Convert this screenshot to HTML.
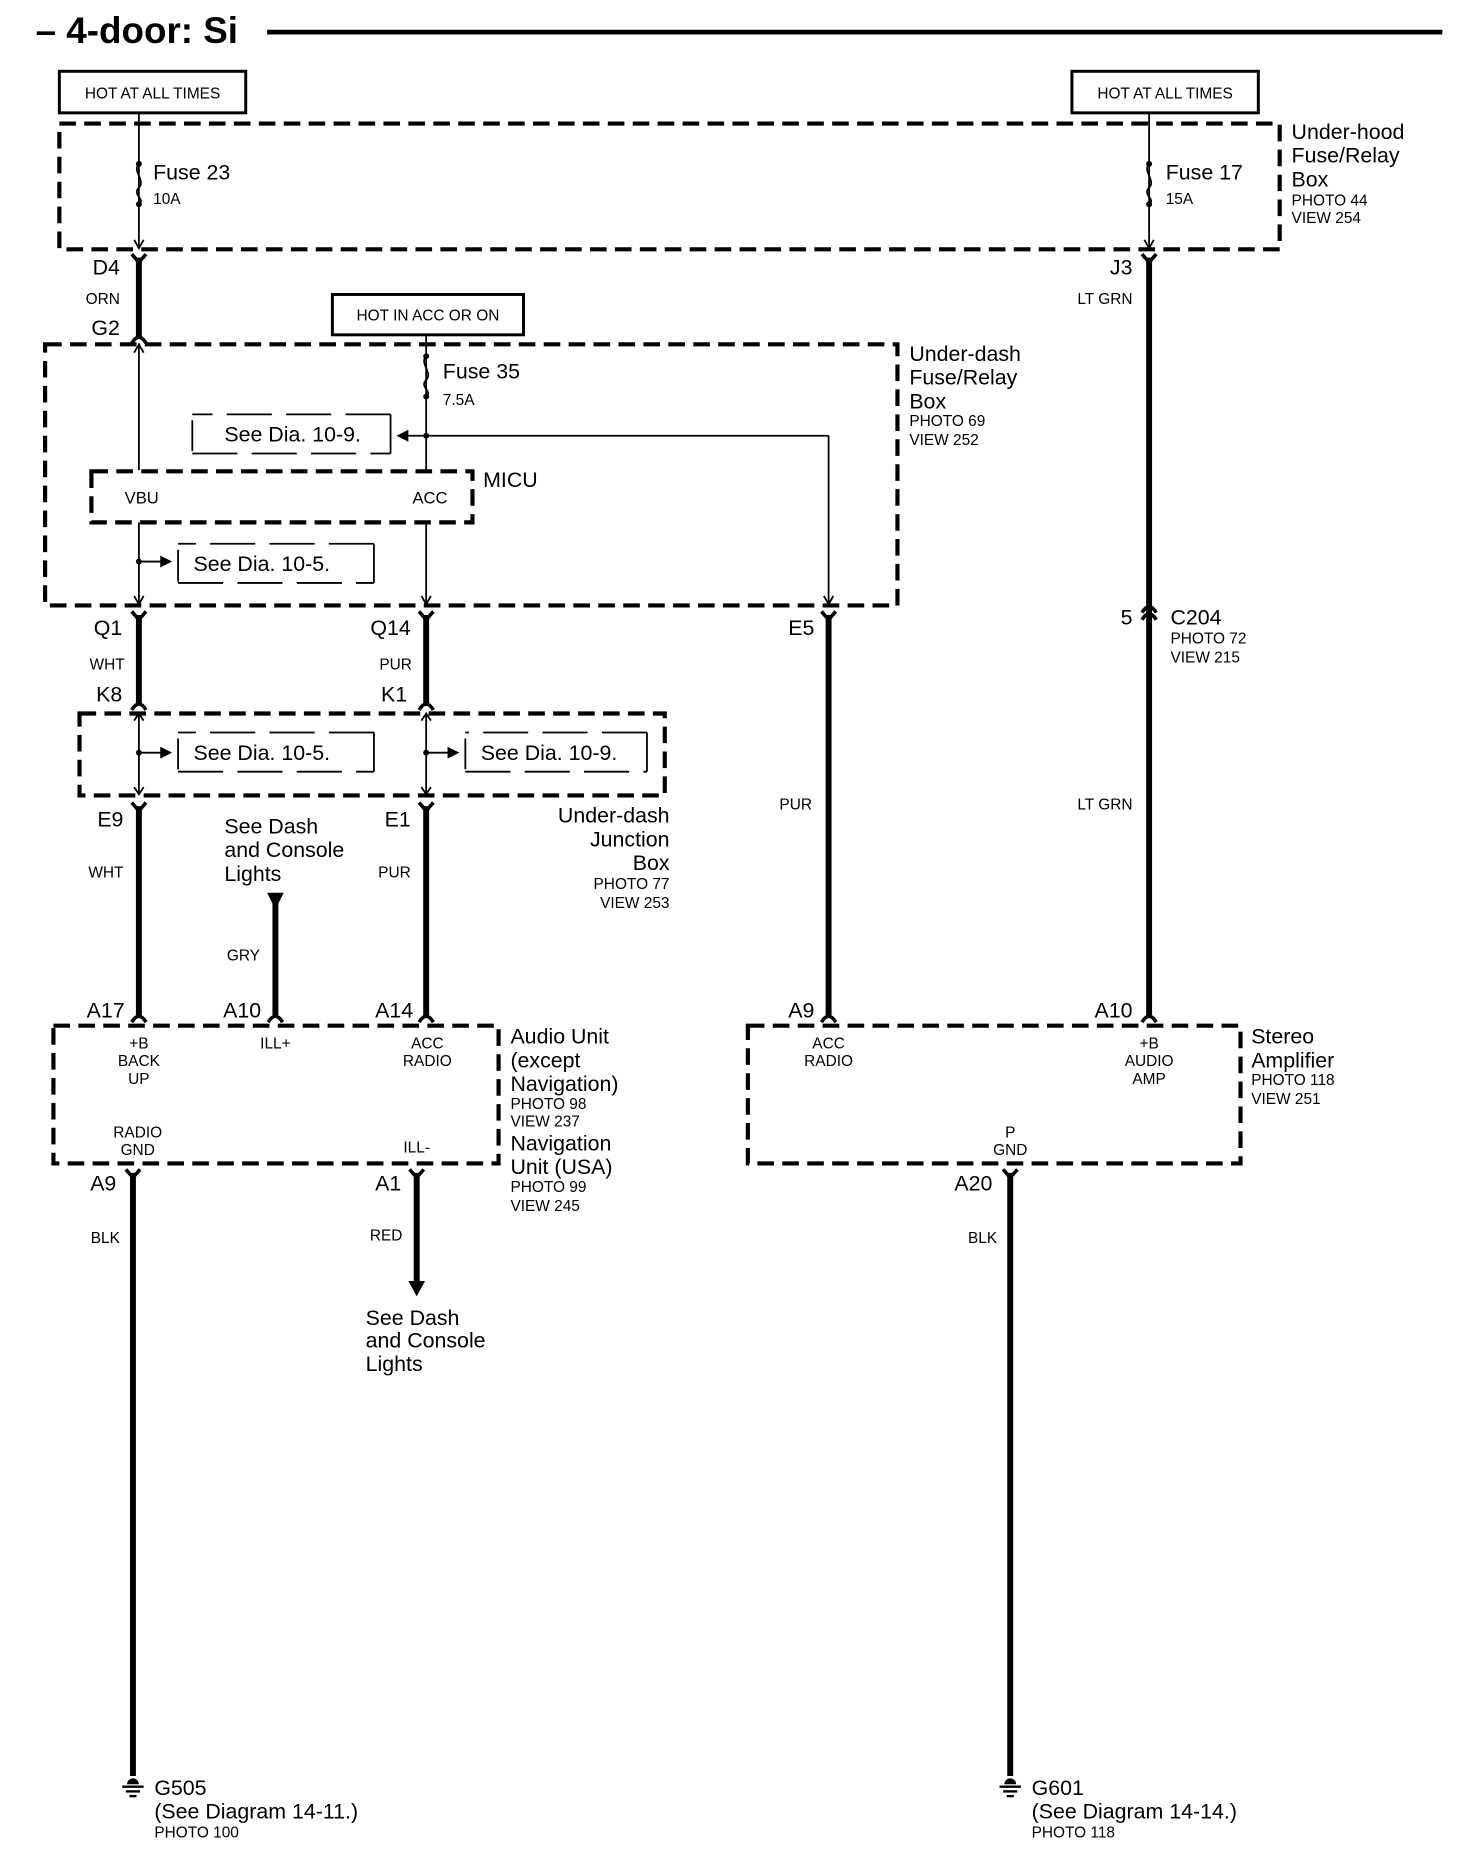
<!DOCTYPE html>
<html><head><meta charset="utf-8"><style>
html,body{margin:0;padding:0;background:#fff}
svg{display:block}
text{font-family:"Liberation Sans",Arial,sans-serif;fill:#000}
.b{font-size:18px}.s{font-size:13px}.m{font-size:14px}
.thin{stroke:#000;stroke-width:1.5;fill:none}
.thick{stroke:#000;stroke-width:5;fill:none}
.dash{stroke:#000;stroke-width:3.5;fill:none;stroke-dasharray:14 7}
.dash2{stroke:#000;stroke-width:1.5;fill:none;stroke-dasharray:38 12}
.con{stroke:#000;stroke-width:3;fill:none}
</style></head><body>
<svg width="1472" height="1852" viewBox="0 0 1240 1560" xmlns="http://www.w3.org/2000/svg">
<defs>
<g id="ytop"><path d="M-6,-7 L0,0 L6,-7" class="con"/></g>
<g id="ybot"><path d="M-6,6 Q0,-4 6,6" class="con"/></g>
<g id="fuse"><path d="M0,0 c-6,6 6,14 0,20 c-6,6 6,10 0,14" class="thin"/><circle cx="0" cy="0" r="2.5"/><circle cx="0" cy="34" r="2.5"/></g>
<g id="gnd"><circle cx="0" cy="0" r="5"/><rect x="-8" y="0" width="16" height="5" fill="#fff"/><line x1="-9" y1="2" x2="9" y2="2" stroke="#000" stroke-width="2"/><line x1="-6" y1="6" x2="6" y2="6" stroke="#000" stroke-width="2"/><line x1="-3" y1="10" x2="3" y2="10" stroke="#000" stroke-width="2"/></g>
</defs>

<!-- title -->
<text x="30" y="36" style="font-size:31px;font-weight:bold">– 4-door: Si</text>
<line x1="225" y1="27" x2="1215" y2="27" stroke="#000" stroke-width="4"/>

<!-- top hot boxes -->
<rect x="50" y="60" width="157" height="35" fill="none" stroke="#000" stroke-width="2.5"/>
<text x="128.5" y="83" class="s" text-anchor="middle">HOT AT ALL TIMES</text>
<rect x="903" y="60" width="157" height="35" fill="none" stroke="#000" stroke-width="2.5"/>
<text x="981.5" y="83" class="s" text-anchor="middle">HOT AT ALL TIMES</text>

<!-- under-hood box -->
<rect x="50" y="104" width="1028" height="106" class="dash"/>
<text x="1088" y="117" class="b">Under-hood</text>
<text x="1088" y="137" class="b">Fuse/Relay</text>
<text x="1088" y="157" class="b">Box</text>
<text x="1088" y="173" class="s">PHOTO 44</text>
<text x="1088" y="188" class="s">VIEW 254</text>

<line x1="117" y1="95" x2="117" y2="208" class="thin"/>
<use href="#fuse" x="117" y="138"/>
<path d="M113,202 L117,209 L121,202" class="thin"/>
<text x="129" y="151" class="b">Fuse 23</text><text x="129" y="172" class="s">10A</text>
<line x1="968" y1="95" x2="968" y2="208" class="thin"/>
<use href="#fuse" x="968" y="138"/>
<path d="M964,202 L968,209 L972,202" class="thin"/>
<text x="982" y="151" class="b">Fuse 17</text><text x="982" y="172" class="s">15A</text>

<!-- D4 - G2 -->
<line x1="117" y1="217" x2="117" y2="284" class="thick"/>
<use href="#ytop" x="117" y="221"/><use href="#ybot" x="117" y="283"/>
<text x="101" y="231" class="b" text-anchor="end">D4</text>
<text x="101" y="256" class="s" text-anchor="end">ORN</text>
<text x="101" y="282" class="b" text-anchor="end">G2</text>

<!-- J3 right wire -->
<line x1="968" y1="217" x2="968" y2="855" class="thick"/>
<use href="#ytop" x="968" y="221"/>
<text x="954" y="231" class="b" text-anchor="end">J3</text>
<text x="954" y="256" class="s" text-anchor="end">LT GRN</text>
<path d="M962,522 Q968,512 974,522" class="con"/><path d="M962,516 Q968,506 974,516" class="con"/>
<text x="954" y="526" class="b" text-anchor="end">5</text>
<text x="986" y="526" class="b">C204</text>
<text x="986" y="542" class="s">PHOTO 72</text>
<text x="986" y="558" class="s">VIEW 215</text>
<text x="954" y="682" class="s" text-anchor="end">LT GRN</text>
<use href="#ybot" x="968" y="855"/>
<text x="954" y="857" class="b" text-anchor="end">A10</text>

<!-- hot in acc -->
<rect x="280" y="248" width="161" height="34" fill="none" stroke="#000" stroke-width="2.5"/>
<text x="360.5" y="270" class="s" text-anchor="middle">HOT IN ACC OR ON</text>

<!-- under-dash fuse box -->
<rect x="38" y="290" width="718" height="220" class="dash"/>
<text x="766" y="304" class="b">Under-dash</text>
<text x="766" y="324" class="b">Fuse/Relay</text>
<text x="766" y="344" class="b">Box</text>
<text x="766" y="359" class="s">PHOTO 69</text>
<text x="766" y="375" class="s">VIEW 252</text>

<line x1="117" y1="290" x2="117" y2="396" class="thin"/>
<path d="M113,297 L117,290 L121,297" class="thin"/>
<line x1="117" y1="440" x2="117" y2="508" class="thin"/>
<path d="M113,502 L117,509 L121,502" class="thin"/>
<circle cx="117" cy="473" r="2.5"/><line x1="117" y1="473" x2="136" y2="473" class="thin"/><path d="M135,468 L145,473 L135,478Z"/>
<path d="M150,463 V490 M150,491 H315 M315,491 V458 M315,458 H150" class="dash2"/>
<text x="163" y="481" class="b">See Dia. 10-5.</text>

<line x1="359" y1="282" x2="359" y2="396" class="thin"/>
<use href="#fuse" x="359" y="300"/>
<text x="373" y="319" class="b">Fuse 35</text><text x="373" y="341" class="s">7.5A</text>
<circle cx="359" cy="367" r="2.5"/>
<line x1="342" y1="367" x2="698" y2="367" class="thin"/><path d="M344,362 L334,367 L344,372Z"/>
<line x1="698" y1="367" x2="698" y2="508" class="thin"/><path d="M694,502 L698,509 L702,502" class="thin"/>
<path d="M162,354 V380 M162,382 H329 M329,382 V349 M329,349 H162" class="dash2"/>
<text x="189" y="372" class="b">See Dia. 10-9.</text>
<line x1="359" y1="440" x2="359" y2="508" class="thin"/>
<path d="M355,502 L359,509 L363,502" class="thin"/>

<rect x="77" y="397" width="321" height="43" class="dash"/>
<text x="105" y="424" class="m">VBU</text>
<text x="377" y="424" class="m" text-anchor="end">ACC</text>
<text x="407" y="410" class="b">MICU</text>

<!-- Q1/Q14 -->
<line x1="117" y1="518" x2="117" y2="593" class="thick"/>
<use href="#ytop" x="117" y="522"/><use href="#ybot" x="117" y="592"/>
<text x="103" y="535" class="b" text-anchor="end">Q1</text>
<text x="105" y="564" class="s" text-anchor="end">WHT</text>
<text x="103" y="591" class="b" text-anchor="end">K8</text>
<line x1="359" y1="518" x2="359" y2="593" class="thick"/>
<use href="#ytop" x="359" y="522"/><use href="#ybot" x="359" y="592"/>
<text x="346" y="535" class="b" text-anchor="end">Q14</text>
<text x="347" y="564" class="s" text-anchor="end">PUR</text>
<text x="343" y="591" class="b" text-anchor="end">K1</text>

<!-- E5 -->
<line x1="698" y1="518" x2="698" y2="855" class="thick"/>
<use href="#ytop" x="698" y="522"/><use href="#ybot" x="698" y="855"/>
<text x="686" y="535" class="b" text-anchor="end">E5</text>
<text x="684" y="682" class="s" text-anchor="end">PUR</text>
<text x="686" y="857" class="b" text-anchor="end">A9</text>

<!-- junction box -->
<rect x="67" y="601" width="493" height="69" class="dash"/>
<line x1="117" y1="601" x2="117" y2="669" class="thin"/>
<path d="M113,607 L117,601 L121,607 M113,663 L117,669 L121,663" class="thin"/>
<circle cx="117" cy="634" r="2.5"/><line x1="117" y1="634" x2="136" y2="634" class="thin"/><path d="M135,629 L145,634 L135,639Z"/>
<path d="M150,622 V648 M150,650 H315 M315,650 V617 M315,617 H150" class="dash2"/>
<text x="163" y="640" class="b">See Dia. 10-5.</text>
<line x1="359" y1="601" x2="359" y2="669" class="thin"/>
<path d="M355,607 L359,601 L363,607 M355,663 L359,669 L363,663" class="thin"/>
<circle cx="359" cy="634" r="2.5"/><line x1="359" y1="634" x2="378" y2="634" class="thin"/><path d="M377,629 L387,634 L377,639Z"/>
<path d="M392,622 V648 M392,650 H545 M545,650 V617 M545,617 H392" class="dash2"/>
<text x="405" y="640" class="b">See Dia. 10-9.</text>
<text x="564" y="693" class="b" text-anchor="end">Under-dash</text>
<text x="564" y="713" class="b" text-anchor="end">Junction</text>
<text x="564" y="733" class="b" text-anchor="end">Box</text>
<text x="564" y="749" class="s" text-anchor="end">PHOTO 77</text>
<text x="564" y="765" class="s" text-anchor="end">VIEW 253</text>

<!-- E9/E1 -->
<line x1="117" y1="679" x2="117" y2="855" class="thick"/>
<use href="#ytop" x="117" y="683"/><use href="#ybot" x="117" y="855"/>
<text x="104" y="696" class="b" text-anchor="end">E9</text>
<text x="104" y="739" class="s" text-anchor="end">WHT</text>
<text x="105" y="857" class="b" text-anchor="end">A17</text>
<line x1="359" y1="679" x2="359" y2="855" class="thick"/>
<use href="#ytop" x="359" y="683"/><use href="#ybot" x="359" y="855"/>
<text x="346" y="696" class="b" text-anchor="end">E1</text>
<text x="346" y="739" class="s" text-anchor="end">PUR</text>
<text x="348" y="857" class="b" text-anchor="end">A14</text>

<!-- GRY -->
<text x="189" y="702" class="b">See Dash</text>
<text x="189" y="722" class="b">and Console</text>
<text x="189" y="742" class="b">Lights</text>
<path d="M225,752 L239,752 L232,766Z"/>
<line x1="232" y1="760" x2="232" y2="855" class="thick"/>
<use href="#ybot" x="232" y="855"/>
<text x="219" y="809" class="s" text-anchor="end">GRY</text>
<text x="220" y="857" class="b" text-anchor="end">A10</text>

<!-- audio unit -->
<rect x="45" y="864" width="375" height="116" class="dash"/>
<text x="117" y="883" class="s" text-anchor="middle">+B</text>
<text x="117" y="898" class="s" text-anchor="middle">BACK</text>
<text x="117" y="913" class="s" text-anchor="middle">UP</text>
<text x="232" y="883" class="s" text-anchor="middle">ILL+</text>
<text x="360" y="883" class="s" text-anchor="middle">ACC</text>
<text x="360" y="898" class="s" text-anchor="middle">RADIO</text>
<text x="116" y="958" class="s" text-anchor="middle">RADIO</text>
<text x="116" y="973" class="s" text-anchor="middle">GND</text>
<text x="351" y="971" class="s" text-anchor="middle">ILL-</text>
<text x="430" y="879" class="b">Audio Unit</text>
<text x="430" y="899" class="b">(except</text>
<text x="430" y="919" class="b">Navigation)</text>
<text x="430" y="934" class="s">PHOTO 98</text>
<text x="430" y="949" class="s">VIEW 237</text>
<text x="430" y="969" class="b">Navigation</text>
<text x="430" y="989" class="b">Unit (USA)</text>
<text x="430" y="1004" class="s">PHOTO 99</text>
<text x="430" y="1020" class="s">VIEW 245</text>

<!-- stereo amp -->
<rect x="630" y="864" width="415" height="116" class="dash"/>
<text x="698" y="883" class="s" text-anchor="middle">ACC</text>
<text x="698" y="898" class="s" text-anchor="middle">RADIO</text>
<text x="968" y="883" class="s" text-anchor="middle">+B</text>
<text x="968" y="898" class="s" text-anchor="middle">AUDIO</text>
<text x="968" y="913" class="s" text-anchor="middle">AMP</text>
<text x="851" y="958" class="s" text-anchor="middle">P</text>
<text x="851" y="973" class="s" text-anchor="middle">GND</text>
<text x="1054" y="879" class="b">Stereo</text>
<text x="1054" y="899" class="b">Amplifier</text>
<text x="1054" y="914" class="s">PHOTO 118</text>
<text x="1054" y="930" class="s">VIEW 251</text>

<!-- grounds -->
<line x1="112" y1="988" x2="112" y2="1496" class="thick"/>
<use href="#ytop" x="112" y="992"/>
<text x="98" y="1003" class="b" text-anchor="end">A9</text>
<text x="101" y="1047" class="s" text-anchor="end">BLK</text>
<use href="#gnd" x="112" y="1503"/>
<text x="130" y="1512" class="b">G505</text>
<text x="130" y="1532" class="b">(See Diagram 14-11.)</text>
<text x="130" y="1548" class="s">PHOTO 100</text>

<line x1="351" y1="988" x2="351" y2="1080" class="thick"/>
<use href="#ytop" x="351" y="992"/>
<path d="M344,1079 L358,1079 L351,1092Z"/>
<text x="338" y="1003" class="b" text-anchor="end">A1</text>
<text x="339" y="1045" class="s" text-anchor="end">RED</text>
<text x="308" y="1116" class="b">See Dash</text>
<text x="308" y="1135" class="b">and Console</text>
<text x="308" y="1155" class="b">Lights</text>

<line x1="851" y1="988" x2="851" y2="1496" class="thick"/>
<use href="#ytop" x="851" y="992"/>
<text x="836" y="1003" class="b" text-anchor="end">A20</text>
<text x="840" y="1047" class="s" text-anchor="end">BLK</text>
<use href="#gnd" x="851" y="1503"/>
<text x="869" y="1512" class="b">G601</text>
<text x="869" y="1532" class="b">(See Diagram 14-14.)</text>
<text x="869" y="1548" class="s">PHOTO 118</text>
</svg>
</body></html>
